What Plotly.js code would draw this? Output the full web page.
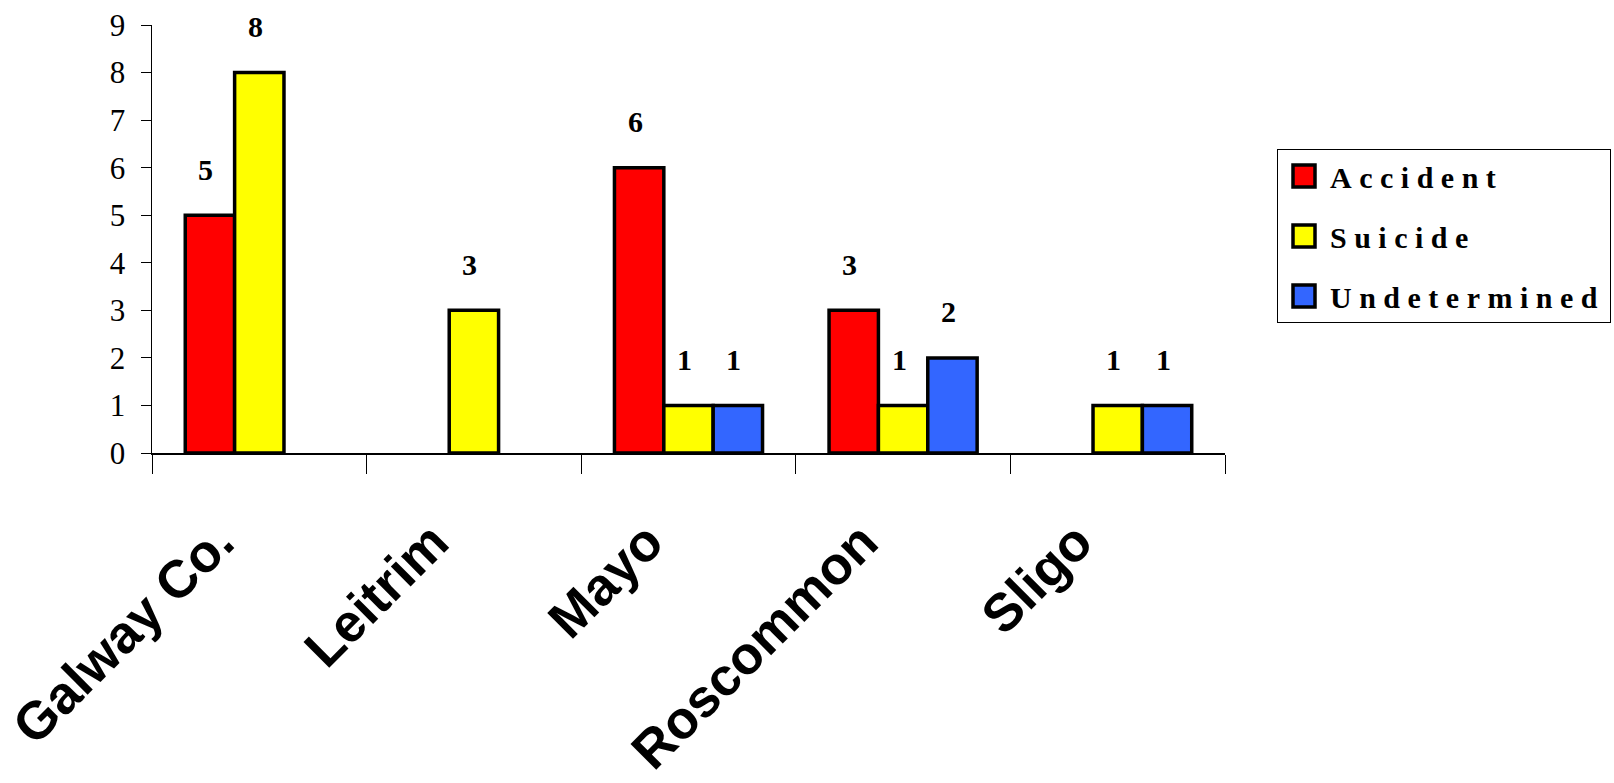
<!DOCTYPE html>
<html>
<head>
<meta charset="utf-8">
<script src="https://cdn.plot.ly/plotly-3.0.1.min.js"></script>
<style>
  html, body { margin: 0; padding: 0; background: #fff; }
  #chart { width: 1614px; height: 783px; }
  .legendtext { letter-spacing: 7.5px; }
</style>
</head>
<body>
<div id="chart"></div>
<script>
// ---- data ----
const categories = ['Galway Co.', 'Leitrim', 'Mayo', 'Roscommon', 'Sligo'];
const accident = [5, 0, 6, 3, 0];
const suicide = [8, 3, 1, 1, 1];
const undetermined = [0, 0, 1, 2, 1];
const seriesNames = ['Accident', 'Suicide', 'Undetermined'];
const yTicks = [0, 1, 2, 3, 4, 5, 6, 7, 8, 9];

// ---- styling ----
const seriesValues = [accident, suicide, undetermined];
const seriesColors = ['#FF0000', '#FFFF00', '#3366FF'];
const BARGAP = 0.31;
const nSeries = seriesValues.length;

const traces = seriesValues.map((vals, i) => ({
  type: 'bar',
  name: seriesNames[i],
  legendgroup: 'g' + i,
  x: categories,
  y: vals,
  marker: {
    color: seriesColors[i],
    line: { color: '#000', width: vals.map(v => (v > 0 ? 3.5 : 0)) }
  },
  hoverinfo: 'x+y+name'
}));

const annotations = [];
seriesValues.forEach((vals, i) => {
  vals.forEach((v, j) => {
    if (v > 0) {
      annotations.push({
        xref: 'x', yref: 'y',
        x: j + (i - (nSeries - 1) / 2) * (1 - BARGAP) / nSeries,
        y: v,
        text: '<b>' + v + '</b>',
        showarrow: false,
        yanchor: 'middle',
        yshift: 46,
        xshift: -4,
        font: { family: 'Liberation Serif, Times New Roman, serif', size: 30, color: '#000' }
      });
    }
  });
});

const layout = {
  width: 1614,
  height: 783,
  margin: { l: 152, r: 389, t: 25, b: 330, autoexpand: false },
  paper_bgcolor: '#fff',
  plot_bgcolor: '#fff',
  barmode: 'group',
  bargap: BARGAP,
  bargroupgap: 0,
  showlegend: true,
  legend: {
    xref: 'container', yref: 'container',
    x: 1277 / 1614, y: 1 - 149 / 783, xanchor: 'left', yanchor: 'top',
    bordercolor: '#000', borderwidth: 1,
    traceorder: 'grouped', tracegroupgap: 18,
    itemwidth: 42,
    font: { family: 'Liberation Serif, Times New Roman, serif', size: 30, color: '#000', weight: 'bold' }
  },
  xaxis: {
    type: 'category',
    showline: true, linecolor: '#000', linewidth: 1.5,
    ticks: 'outside', tickson: 'boundaries', ticklen: 19, tickcolor: '#000', tickwidth: 1,
    tickangle: -45,
    ticklabelstandoff: 35,
    ticklabelshift: -41,
    automargin: false,
    tickfont: { family: 'Liberation Sans, Arial, sans-serif', size: 53, color: '#000', weight: 'bold' },
    showgrid: false, zeroline: false, fixedrange: true
  },
  yaxis: {
    range: [0, 9],
    tickvals: yTicks,
    ticktext: yTicks.map(String),
    showline: true, linecolor: '#000', linewidth: 1.5,
    ticks: 'outside', ticklen: 10, tickcolor: '#000', tickwidth: 1,
    ticklabelstandoff: 9,
    automargin: false,
    tickfont: { family: 'Liberation Serif, Times New Roman, serif', size: 31, color: '#000' },
    showgrid: false, zeroline: false, fixedrange: true
  },
  annotations: annotations
};

Plotly.newPlot('chart', traces, layout, { displayModeBar: false, staticPlot: true }).then(gd => {
  gd.querySelectorAll('.legendpoints path').forEach(p => {
    p.setAttribute('d', 'M11,11H-11V-11H11Z');
    p.style.stroke = '#000';
    p.style.strokeWidth = '3.5px';
  });
});
</script>
</body>
</html>
